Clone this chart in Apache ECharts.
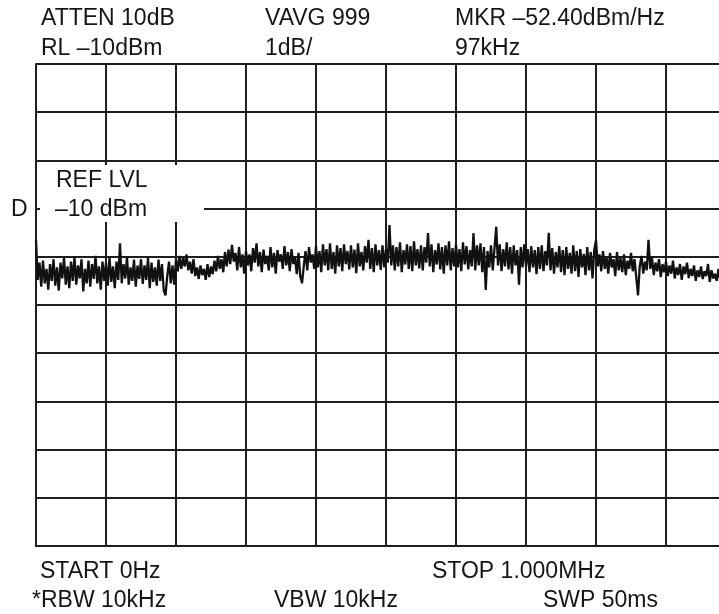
<!DOCTYPE html>
<html>
<head>
<meta charset="utf-8">
<script src="https://cdn.jsdelivr.net/npm/echarts@6/dist/echarts.min.js"></script>
<style>
html,body{margin:0;padding:0;background:#fff;}
#c{width:719px;height:614px;}
</style>
</head>
<body>
<div id="c"></div>
<script>
// Frequency axis (kHz) and amplitude (dBm, 1 dB/div, ref -10 dBm)
var freqStartKHz = 0;
var freqStepKHz = 2.5;
var traceDbm = [
 -13.65,-14.48,-14.12,-14.62,-14.08,-14.55,-14.25,-14.68,-14.15,-14.50,-14.05,-14.60,-14.22,-14.70,-14.12,-14.45,-14.02,-14.58,-14.20,-14.65,
 -14.10,-14.50,-14.00,-14.58,-14.18,-14.45,-14.05,-14.72,-14.25,-14.55,-14.08,-14.62,-14.15,-14.46,-13.98,-14.55,-14.20,-14.68,-14.10,-14.50,
 -14.12,-14.60,-14.02,-14.52,-14.20,-14.65,-14.10,-14.48,-13.72,-14.55,-14.15,-14.45,-14.00,-14.58,-14.22,-14.50,-14.06,-14.62,-14.18,-14.46,
 -14.05,-14.56,-14.18,-14.48,-14.02,-14.65,-14.12,-14.52,-14.22,-14.60,-14.06,-14.50,-14.15,-14.70,-14.80,-14.40,-14.10,-14.55,-14.18,-14.58,
 -14.05,-14.30,-13.98,-14.25,-14.02,-14.20,-13.95,-14.28,-14.10,-14.35,-14.05,-14.40,-14.22,-14.46,-14.18,-14.38,-14.25,-14.48,-14.15,-14.42,
 -14.20,-14.36,-14.08,-14.30,-13.98,-14.25,-14.05,-14.32,-13.90,-14.20,-13.85,-14.15,-13.75,-14.10,-13.92,-14.28,-13.80,-14.22,-13.95,-14.35,
 -13.88,-14.18,-13.95,-14.30,-13.82,-14.12,-13.72,-14.20,-13.90,-14.32,-13.85,-14.15,-13.98,-14.28,-13.80,-14.22,-13.92,-14.35,-13.86,-14.10,
 -13.95,-14.25,-13.78,-14.18,-13.90,-14.30,-13.84,-14.15,-14.00,-14.36,-13.92,-14.40,-14.55,-14.20,-13.88,-14.28,-13.80,-14.12,-13.95,-14.25,
 -13.78,-14.22,-13.88,-14.32,-13.74,-14.18,-13.84,-14.28,-13.72,-14.25,-13.90,-14.35,-13.76,-14.20,-13.82,-14.30,-13.74,-14.15,-13.88,-14.26,
 -13.76,-14.22,-13.85,-14.34,-13.72,-14.20,-13.90,-14.28,-13.78,-14.12,-13.65,-14.25,-13.82,-14.32,-13.74,-14.18,-13.86,-14.27,-13.76,-14.22,
 -13.84,-14.12,-13.34,-14.18,-13.76,-14.28,-13.80,-14.20,-13.70,-14.32,-13.86,-14.16,-13.74,-14.25,-13.78,-14.30,-13.68,-14.18,-13.84,-14.24,
 -13.76,-14.28,-13.80,-14.12,-13.51,-14.20,-13.74,-14.32,-13.86,-14.16,-13.72,-14.26,-13.80,-14.35,-13.76,-14.18,-13.68,-14.28,-13.82,-14.20,
 -13.74,-14.22,-13.84,-14.30,-13.70,-14.16,-13.78,-14.26,-13.86,-14.20,-13.51,-14.28,-13.76,-14.18,-13.72,-14.32,-13.80,-14.69,-13.88,-14.22,
 -13.76,-14.28,-13.82,-13.38,-14.18,-13.74,-14.30,-13.84,-14.20,-13.70,-14.26,-13.80,-14.35,-13.76,-14.18,-13.86,-14.58,-13.80,-14.22,-13.74,
 -14.20,-13.84,-14.32,-13.78,-14.22,-13.86,-14.36,-13.80,-14.25,-13.76,-14.30,-13.88,-14.18,-13.50,-14.28,-13.82,-14.35,-13.90,-14.22,-13.78,
 -14.32,-13.86,-14.38,-13.80,-14.25,-13.92,-14.35,-13.76,-14.30,-13.88,-14.42,-13.84,-14.22,-13.94,-14.38,-13.80,-14.28,-13.90,-14.45,-13.86,
 -13.65,-14.20,-13.95,-14.30,-13.88,-14.25,-14.00,-14.35,-13.92,-14.22,-14.05,-14.40,-13.90,-14.28,-14.02,-14.32,-13.95,-14.38,-14.08,-14.25,
 -13.92,-14.30,-14.05,-14.42,-14.80,-14.20,-13.98,-14.35,-14.10,-14.28,-13.65,-14.25,-14.02,-14.38,-14.12,-14.30,-14.05,-14.42,-14.15,-14.32,
 -14.10,-14.40,-14.18,-14.35,-14.08,-14.45,-14.22,-14.38,-14.15,-14.48,-14.20,-14.36,-14.12,-14.44,-14.25,-14.40,-14.18,-14.50,-14.28,-14.42,
 -14.20,-14.46,-14.30,-14.40,-14.15,-14.52,-14.28,-14.45,-14.35,-14.50,-14.25,-14.48,-14.38,-14.55,-14.30,-14.50,-14.40,-14.58,-14.42,-14.52,
 -14.48
];
var headerRow1 = ["ATTEN 10dB", "VAVG 999", "MKR \u201352.40dBm/Hz"];
var headerRow2 = ["RL \u201310dBm", "1dB/", "97kHz"];
var footerRow1 = ["START 0Hz", "STOP 1.000MHz"];
var footerRow2 = ["*RBW 10kHz", "VBW 10kHz", "SWP 50ms"];
var refLabel = ["REF LVL", "\u201310 dBm"];
var sideLabel = "D";

var seriesData = traceDbm.map(function (v, i) { return [freqStartKHz + i * freqStepKHz, v]; });

var FONT = '"Liberation Sans", Arial, sans-serif';
var FS = 23;
function txt(s, x, baseline) {
  return { type: 'text', left: x, top: baseline - 20, silent: true, z: 100,
    style: { text: s, fill: '#151515', font: FS + 'px ' + FONT } };
}
var gridColor = '#1e1e1e';
var chart = echarts.init(document.getElementById('c'), null, { renderer: 'canvas' });
chart.setOption({
  animation: false,
  backgroundColor: '#ffffff',
  grid: { left: 36, top: 64, width: 700, height: 482, outerBoundsMode: 'none', containLabel: false },
  xAxis: {
    type: 'value', min: 0, max: 1000, interval: 100,
    axisLine: { show: true, onZero: false, lineStyle: { color: gridColor, width: 2 } },
    axisTick: { show: false }, axisLabel: { show: false },
    splitLine: { show: true, lineStyle: { color: gridColor, width: 2 } }
  },
  yAxis: {
    type: 'value', min: -20, max: -10, interval: 1,
    axisLine: { show: true, lineStyle: { color: gridColor, width: 2 } },
    axisTick: { show: false }, axisLabel: { show: false },
    splitLine: { show: true, lineStyle: { color: gridColor, width: 2 } }
  },
  series: [{
    type: 'line', data: seriesData, symbol: 'none',
    lineStyle: { color: '#111', width: 2.3 }, z: 5
  }],
  graphic: [
    { type: 'rect', shape: { x: 40, y: 165, width: 164, height: 57 }, style: { fill: '#fff' }, z: 90, silent: true },
    txt(headerRow1[0], 41, 27), txt(headerRow1[1], 265, 27), txt(headerRow1[2], 455, 27),
    txt(headerRow2[0], 41, 57), txt(headerRow2[1], 265, 57), txt(headerRow2[2], 455, 57),
    txt(footerRow1[0], 40, 580), txt(footerRow1[1], 432, 580),
    txt(footerRow2[0], 32, 609), txt(footerRow2[1], 274, 609), txt(footerRow2[2], 543, 609),
    txt(refLabel[0], 56, 189), txt(refLabel[1], 55, 218),
    txt(sideLabel, 11, 218)
  ]
});
</script>
</body>
</html>
